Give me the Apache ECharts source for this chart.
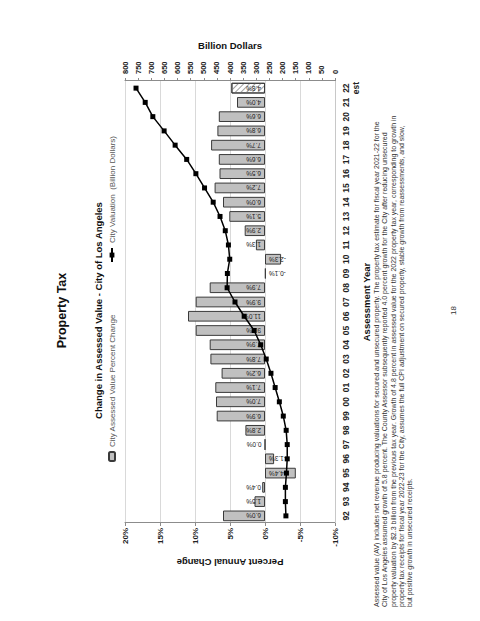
<!DOCTYPE html>
<html>
<head>
<meta charset="utf-8">
<script src="https://cdn.jsdelivr.net/npm/echarts@6/dist/echarts.min.js"></script>
<style>
html,body{margin:0;padding:0;background:#fff;overflow:hidden;width:480px;height:621px;}
#chart{position:absolute;left:0;top:0;width:621px;height:480px;transform-origin:0 0;transform:translate(0,621px) rotate(-90deg);}
</style>
</head>
<body>
<div id="chart"></div>
<script>
// ---- data ----
const years = ['92','93','94','95','96','97','98','99','00','01','02','03','04','05','06','07','08','09','10','11','12','13','14','15','16','17','18','19','20','21','22\nest'];
const pctChange = [6.0, 1.5, 0.4, -4.4, -1.3, 0.0, 2.8, 6.9, 7.0, 7.1, 6.2, 7.8, 7.9, 9.9, 11.0, 9.9, 7.9, -0.1, -2.3, 1.3, 2.9, 5.1, 6.0, 7.2, 6.5, 6.6, 7.7, 6.8, 6.6, 4.0, 4.8];
const valuation = [187, 189, 189, 185, 182, 182, 186, 197, 212, 228, 244, 262, 283, 308, 346, 381, 411, 410, 401, 406, 418, 438, 464, 497, 530, 565, 609, 651, 694, 723, 758];
const estimateIndex = 30;
const pctTicks = {min: -10, max: 20, step: 5};
const valTicks = {min: 0, max: 800, step: 50};
const barName = 'City Assessed Value Percent Change';
const lineName = 'City Valuation  (Billion Dollars)';
const footnote = [
  'Assessed value (AV) includes net revenue producing valuations for secured and unsecured property. The property tax estimate for fiscal year 2021-22 for the',
  'City of Los Angeles assumed growth of 5.8 percent. The County Assessor subsequently reported 4.0 percent growth for the City after reducing unsecured',
  'property valuation by $2.3 billion from the previous tax year. Growth of 4.8 percent in assessed value for the 2022 property tax year, corresponding to growth in',
  'property tax receipts for fiscal year 2022-23 for the City, assumes the full CPI adjustment on secured property, stable growth from reassessments, and slow,',
  'but positive growth in unsecured receipts.'
];

const FONT = '"Liberation Sans", Arial, Helvetica, sans-serif';

const barData = pctChange.map(function (v, i) {
  const item = {value: v};
  if (v < 0) {
    item.label = {position: 'insideTop', align: 'right'};
  }
  if (i === estimateIndex) {
    item.itemStyle = {
      color: '#ffffff',
      decal: {symbol: 'rect', symbolSize: 1, dashArrayX: [1, 0], dashArrayY: [1, 3], rotation: Math.PI / 4, color: '#a0a0a0'}
    };
  }
  return item;
});

const chart = echarts.init(document.getElementById('chart'), null, {renderer: 'svg', width: 621, height: 480});
chart.setOption({
  animation: false,
  backgroundColor: '#ffffff',
  textStyle: {fontFamily: FONT},
  title: [
    {text: 'Property Tax', left: 'center', top: 55, padding: 0,
     textStyle: {fontFamily: FONT, fontSize: 12.5, fontWeight: 'bold', color: '#111'}},
    {text: 'Change in Assessed Value - City of Los Angeles', left: 'center', top: 93, padding: 0,
     textStyle: {fontFamily: FONT, fontSize: 9.5, fontWeight: 'bold', color: '#111'}},
    {text: footnote.join('\n'), left: 14, top: 372, padding: 0,
     textStyle: {fontFamily: FONT, fontSize: 7, lineHeight: 8.4, fontWeight: 'normal', color: '#333'}},
    {text: '18', left: 'center', top: 449, padding: 0,
     textStyle: {fontFamily: FONT, fontSize: 8, fontWeight: 'normal', color: '#333'}}
  ],
  legend: [
    {data: [barName], left: 159, top: 108, padding: 0, itemWidth: 9, itemHeight: 6, itemGap: 0,
     textStyle: {fontFamily: FONT, fontSize: 8, color: '#555'}},
    {data: [lineName], left: 358, top: 108, padding: 0, itemWidth: 14, itemHeight: 6, itemGap: 0,
     textStyle: {fontFamily: FONT, fontSize: 8, color: '#555'}}
  ],
  grid: {left: 98, right: 81, top: 125, bottom: 145, containLabel: false},
  xAxis: {
    type: 'category',
    data: years,
    axisLine: {onZero: false, lineStyle: {color: '#c8c8c8'}},
    axisTick: {show: false},
    axisLabel: {fontFamily: FONT, fontSize: 8.5, fontWeight: 'bold', color: '#222', margin: 6, interval: 0, lineHeight: 10},
    name: 'Assessment Year',
    nameLocation: 'middle',
    nameGap: 15,
    nameTextStyle: {fontFamily: FONT, fontSize: 9.5, fontWeight: 'bold', color: '#111'}
  },
  yAxis: [
    {
      type: 'value', position: 'left',
      min: pctTicks.min, max: pctTicks.max, interval: pctTicks.step,
      axisLine: {show: true, lineStyle: {color: '#8c8c8c'}},
      axisTick: {show: true, length: 3, lineStyle: {color: '#8c8c8c'}},
      axisLabel: {fontFamily: FONT, fontSize: 8, fontWeight: 'bold', color: '#222', margin: 5, formatter: '{value}%'},
      splitLine: {show: true, lineStyle: {color: '#d9d9d9', width: 1}},
      name: 'Percent Annual Change',
      nameLocation: 'middle', nameRotate: 90, nameGap: 30,
      nameTextStyle: {fontFamily: FONT, fontSize: 9.5, fontWeight: 'bold', color: '#111'}
    },
    {
      type: 'value', position: 'right',
      min: valTicks.min, max: valTicks.max, interval: valTicks.step,
      axisLine: {show: true, lineStyle: {color: '#8c8c8c'}},
      axisTick: {show: true, length: 3, lineStyle: {color: '#8c8c8c'}},
      axisLabel: {fontFamily: FONT, fontSize: 7.5, fontWeight: 'bold', color: '#222', margin: 7},
      splitLine: {show: false},
      name: 'Billion Dollars',
      nameLocation: 'middle', nameRotate: -90, nameGap: 30,
      nameTextStyle: {fontFamily: FONT, fontSize: 9.5, fontWeight: 'bold', color: '#111'}
    }
  ],
  series: [
    {
      name: barName,
      type: 'bar',
      yAxisIndex: 0,
      barCategoryGap: '25%',
      itemStyle: {color: '#c0c0c0', borderColor: '#3a3a3a', borderWidth: 1},
      label: {
        show: true, position: 'insideBottom', rotate: 90, align: 'left', verticalAlign: 'middle',
        distance: 4, fontFamily: FONT, fontSize: 6.5, color: '#222',
        formatter: function (p) { return Number(p.value).toFixed(1) + '%'; }
      },
      data: barData
    },
    {
      name: lineName,
      type: 'line',
      yAxisIndex: 1,
      data: valuation,
      symbol: 'rect',
      symbolSize: 5,
      lineStyle: {color: '#000', width: 1.5},
      itemStyle: {color: '#000'},
      z: 5
    }
  ]
});
</script>
</body>
</html>
